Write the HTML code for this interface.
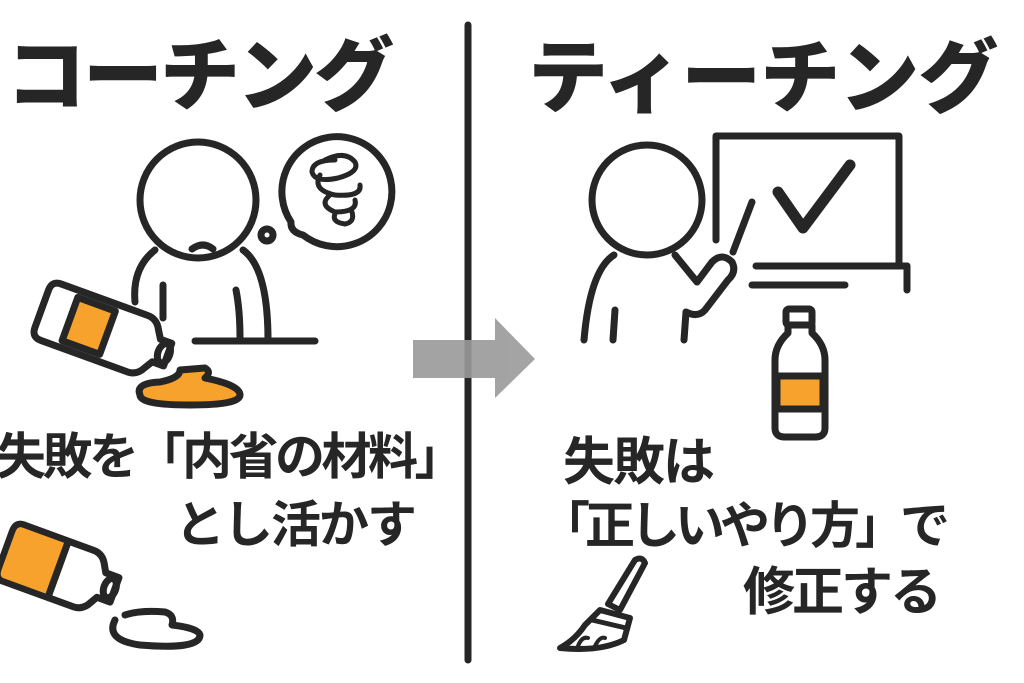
<!DOCTYPE html>
<html><head><meta charset="utf-8"><style>
html,body{margin:0;padding:0;background:#fff;}
svg{display:block;}
text{font-family:"Liberation Sans","Noto Sans CJK JP",sans-serif;fill:#262626;}
</style></head><body>
<svg width="1024" height="683" viewBox="0 0 1024 683" xmlns="http://www.w3.org/2000/svg">
<g fill="none" stroke="#262626" stroke-width="7" stroke-linecap="round" stroke-linejoin="round">
<!-- divider -->
<line x1="468" y1="25" x2="468" y2="660"/>
<!-- left person -->
<circle cx="198" cy="200" r="58"/>
<path d="M192 249 Q203 241 213 249"/>
<path d="M155 250 Q132 268 135 302"/>
<path d="M243 250 Q268 268 268 340"/>
<line x1="163" y1="285" x2="163" y2="318"/>
<path d="M236 290 Q240 310 240 338"/>
<line x1="195" y1="341" x2="315" y2="341"/>
<!-- thought bubble -->
<path d="M291 222 A55 55 0 1 1 303 235 Q290 232 291 222 Z"/>
<circle cx="267" cy="235" r="6"/>
<path stroke-width="5" d="M325 160 Q345 150 355 162 Q360 172 338 178 Q315 183 312 172 Q312 160 335 160 M320 175 Q312 190 335 195 Q362 197 360 185 M330 195 Q318 205 335 212 Q358 212 355 200 M336 212 Q330 222 345 224 Q355 222 352 212"/>
<!-- bottle left tilted -->
<g transform="rotate(20 100 330)">
<path d="M48 300 H140 Q150 300 155 310 L160 318 H172 V342 H160 L155 350 Q150 360 140 360 H48 Q38 360 38 350 V310 Q38 300 48 300 Z" fill="#fff"/>
<rect x="68" y="307" width="40" height="46" fill="#f7a22c"/>
<ellipse cx="168" cy="330" rx="6" ry="10"/>
</g>
<path d="M140 395 Q135 383 160 382 Q180 378 180 370 L205 368 Q212 372 205 378 Q240 385 240 395 Q240 405 190 405 Q140 405 140 395 Z" fill="#f7a22c"/>
<!-- bottom-left bottle -->
<g transform="rotate(20 60 570)">
<path d="M10 540 H85 Q95 540 100 550 L104 557 H118 V583 H104 L100 590 Q95 600 85 600 H10 Q2 600 2 590 V550 Q2 540 10 540 Z" fill="#fff"/>
<path d="M10 543 H58 V597 H10 Q5 597 5 590 V550 Q5 543 10 543 Z" fill="#f7a22c" stroke="none"/>
<line x1="58" y1="542" x2="58" y2="598"/>
<ellipse cx="113" cy="570" rx="6" ry="10"/>
</g>
<path d="M115 620 Q105 640 140 645 Q200 650 200 635 Q198 628 172 625 Q175 615 165 612 Q140 610 125 615"/>
<!-- arrow -->
<g fill="#9a9a9a" stroke="none" opacity="0.9"><rect x="413" y="340" width="84" height="38"/><polygon points="495,318 535,359 495,398"/></g>
<!-- right person -->
<circle cx="647" cy="200" r="55"/>
<path d="M614 255 Q590 270 584 340"/>
<line x1="615" y1="310" x2="613" y2="340"/>
<path d="M675 255 L697 282 L712 262 Q722 252 732 262 Q737 272 728 280 L705 310 Q698 318 686 312 L684 340"/>
<line x1="733" y1="252" x2="752" y2="202"/>
<!-- board -->
<path d="M716 240 V136 H899 V265"/>
<line x1="756" y1="266" x2="907" y2="266"/>
<line x1="907" y1="266" x2="907" y2="290"/>
<line x1="752" y1="285" x2="845" y2="285"/>
<path stroke-width="11" d="M778 192 L803 228 L850 165"/>
<!-- upright bottle -->
<rect x="786" y="309" width="26" height="16" rx="3"/>
<path d="M788 325 V333 Q775 345 775 360 V428 Q775 437 785 437 H815 Q825 437 825 428 V360 Q825 345 812 333 V325"/>
<rect x="777" y="376" width="46" height="33" fill="#f7a22c"/>
<!-- broom -->
<path stroke-width="6" d="M635 560 Q642 556 645 563 L620 610 L608 604 Z"/>
<path stroke-width="6" d="M600 610 L630 618 L624 640 Q600 652 560 648 Q575 640 585 625 Z"/>
<line stroke-width="5" x1="592" y1="620" x2="626" y2="628"/>
<path stroke-width="4" d="M578 646 Q582 636 588 638 M595 646 Q600 636 605 638"/>
</g>
<!-- text -->
<text x="6" y="104" font-size="80" font-weight="900" letter-spacing="-3">コーチング</text>
<text x="528" y="106" font-size="80" font-weight="900" letter-spacing="-1">ティーチング</text>
<text x="-4" y="474" font-size="50" font-weight="700" letter-spacing="-3.5">失敗を「内省の材料」</text>
<text x="175" y="542" font-size="50" font-weight="700" letter-spacing="-2">とし活かす</text>
<text x="563" y="480" font-size="52" font-weight="700" letter-spacing="-2">失敗は</text>
<text x="540" y="543" font-size="50" font-weight="700" letter-spacing="-5">「正しいやり方」で</text>
<text x="743" y="610" font-size="52" font-weight="700" letter-spacing="-3">修正する</text>
</svg>
</body></html>
